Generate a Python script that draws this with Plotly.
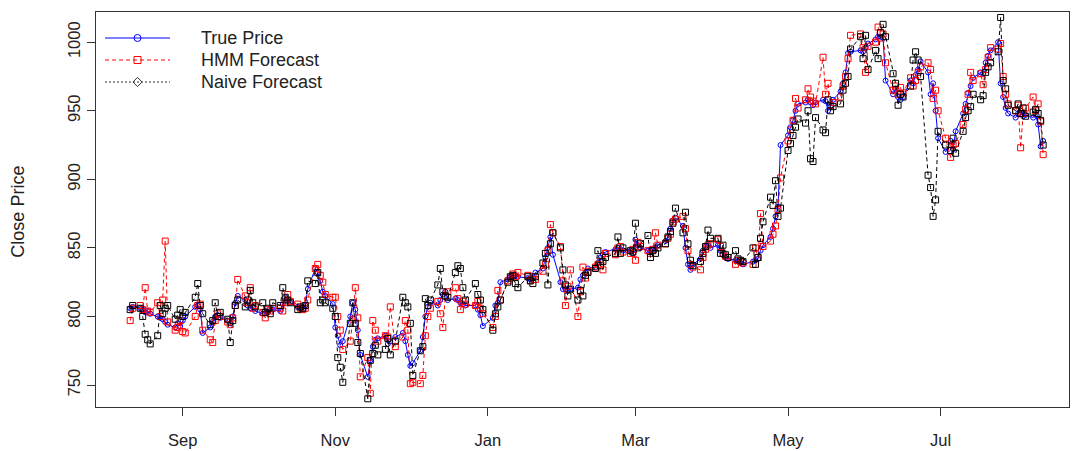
import pandas as pd
import plotly.graph_objects as go

# ---------------- data ----------------
start_date = "2016-08-11"
end_date = "2017-08-11"
market_holidays = ["2016-09-05", "2016-11-24", "2016-12-26", "2017-01-02",
                   "2017-01-16", "2017-02-20", "2017-04-14", "2017-05-29",
                   "2017-07-04"]

true_price = [
    806, 807, 806, 805, 803, 804, 802, 800, 799, 798, 796, 794, 792, 795, 793,
    797, 800, 807, 808, 805, 788, 792, 796, 800, 801, 799, 797, 795, 800, 810, 815, 812, 808, 806, 807, 804,
    802, 804, 803, 806, 805, 804, 809, 814, 812, 810, 807, 806, 805, 808, 820, 835, 832, 826, 818, 815, 809,
    792, 786, 779, 782, 800, 810, 805, 790, 772, 756, 768, 778, 783, 784, 786, 780, 782, 785, 788, 782, 772,
    764, 766, 775, 785, 800, 807, 810, 808, 812, 816, 818, 812, 813, 812, 810, 809, 808, 808, 805, 801, 793,
    799, 808, 810, 825, 827, 829, 830, 830, 829, 828, 827, 828, 832, 835, 843, 850, 858, 845, 825, 820,
    820, 819, 820, 821, 827, 830, 832, 835, 836, 839, 843, 845, 847, 849, 850, 849, 848, 848, 846,
    856, 852, 850, 848, 848, 849, 850, 852, 855, 858, 864, 870, 872, 866, 850, 838, 834, 838, 842, 848, 851, 852, 850,
    852, 848, 845, 843, 842, 841, 840, 839, 838, 840, 841, 842, 848, 852, 858, 864, 873, 880, 925,
    932, 938, 943, 950, 955, 956, 958, 956, 954, 956, 958, 957, 950, 953, 958, 964, 970, 978, 992, 993, 994, 993,
    996, 999, 1002, 1004, 1004, 1003, 972, 962, 966, 960, 958, 960, 972, 970, 976, 980, 986, 978, 962, 970, 950, 930,
    920, 928, 922, 935, 948, 955, 963, 968, 974, 978, 977, 985, 990, 994, 1000, 970, 960, 952, 948, 945,
    948, 950, 946, 947, 945, 947, 940, 924, 928,
]

hmm_forecast = [
    797, 806, 808, 805, 821, 804, 803, 810, 800, 812, 855, 796, 790, 792, 797,
    789, 788, 800, 808, 809, 790, 783, 781, 797, 802, 800, 796, 794, 799, 808, 827, 815, 810, 821, 806, 808,
    803, 799, 805, 804, 806, 806, 804, 810, 816, 811, 809, 806, 805, 806, 812, 835, 838, 830, 825, 816, 814,
    814, 800, 790, 776, 782, 798, 821, 799, 756, 770, 744, 797, 790, 782, 786, 785, 807, 778, 785, 797, 790,
    751, 752, 751, 757, 786, 800, 806, 811, 802, 792, 815, 818, 821, 813, 805, 811, 809, 808, 811, 806, 802,
    792, 800, 819, 812, 826, 828, 831, 829, 832, 830, 826, 829, 827, 833, 838, 848, 867, 861, 851, 826,
    808, 822, 834, 800, 818, 836, 828, 833, 836, 838, 840, 834, 846, 845, 850, 851, 847, 846, 849,
    841, 854, 851, 848, 846, 849, 861, 852, 853, 857, 860, 869, 871, 873, 864, 848, 838, 836, 834, 843, 849, 852, 853,
    856, 851, 846, 844, 843, 838, 841, 840, 839, 838, 850, 843, 875, 851, 855, 860, 866, 878, 901,
    928, 936, 943, 959, 952, 958, 966, 960, 957, 955, 989, 962, 970, 954, 956, 960, 968, 975, 988, 1005, 1006, 996,
    978, 997, 1000, 1011, 1003, 1006, 985, 965, 968, 962, 967, 963, 974, 968, 972, 978, 982, 985, 980, 959, 965, 950,
    930, 916, 925, 926, 940, 951, 962, 978, 972, 977, 969, 980, 989, 996, 995, 999, 975, 962, 955, 950,
    954, 923, 948, 952, 960, 950, 955, 942, 918,
]

naive_forecast = [
    805, 808, 806, 800, 787, 783, 780, 786, 808, 802, 806, 808, 798, 801, 805,
    800, 803, 814, 824, 808, 802, 794, 797, 810, 800, 803, 798, 781, 797, 808, 812, 807, 812, 819, 810, 807,
    810, 803, 806, 802, 810, 808, 821, 814, 812, 810, 805, 807, 806, 808, 826, 824, 832, 810, 812, 810, 806,
    800, 770, 763, 752, 795, 810, 795, 781, 773, 740, 768, 773, 779, 772, 776, 784, 772, 782, 814, 810, 807,
    795, 757, 775, 778, 813, 808, 812, 823, 835, 818, 815, 814, 832, 837, 835, 821, 812, 824, 816, 812, 805,
    790, 802, 807, 812, 825, 829, 830, 824, 821, 829, 826, 824, 829, 839, 846, 823, 853, 861, 850, 834,
    823, 815, 820, 812, 819, 815, 830, 832, 835, 848, 837, 840, 843, 846, 858, 846, 850, 848, 847,
    868, 850, 853, 859, 843, 848, 846, 850, 853, 858, 862, 868, 879, 861, 876, 853, 841, 837, 840, 846, 851, 863, 857,
    857, 846, 852, 845, 843, 848, 842, 841, 840, 850, 838, 843, 857, 869, 887, 881, 899, 873, 879,
    921, 926, 932, 938, 944, 941, 950, 915, 913, 945, 936, 934, 958, 950, 953, 955, 965, 970, 975, 995, 1004, 988,
    1005, 980, 994, 988, 1007, 1013, 1004, 977, 970, 954, 962, 960, 968, 987, 993, 987, 975, 903, 894, 873, 885, 935,
    925, 921, 930, 919, 935, 945, 950, 953, 962, 958, 961, 978, 982, 985, 993, 1018, 972, 966, 954, 950,
    955, 948, 952, 946, 949, 951, 948, 943, 925,
]

tick_dates = ["2016-09-01", "2016-11-01", "2017-01-01", "2017-03-01", "2017-05-01", "2017-07-01"]
tick_labels = ["Sep", "Nov", "Jan", "Mar", "May", "Jul"]
y_ticks = [750, 800, 850, 900, 950, 1000]

series_names = ["True Price", "HMM Forecast", "Naive Forecast"]

# ---------------- build ----------------
bday = pd.offsets.CustomBusinessDay(holidays=market_holidays)
dates = pd.date_range(start_date, end_date, freq=bday)
n = min(len(dates), len(true_price), len(hmm_forecast), len(naive_forecast))
dates = dates[:n]

BLUE = "#0000FF"
RED = "#FF0000"
BLACK = "#000000"
FONT = "Liberation Sans, Arial, sans-serif"
TXT = "#222222"

fig = go.Figure()
fig.add_trace(go.Scatter(
    x=dates, y=true_price[:n], mode="lines+markers", name=series_names[0],
    line=dict(color=BLUE, width=1),
    marker=dict(symbol="circle-open", size=5, color=BLUE, line=dict(width=1)),
    showlegend=False))
fig.add_trace(go.Scatter(
    x=dates, y=hmm_forecast[:n], mode="lines+markers", name=series_names[1],
    line=dict(color=RED, width=1, dash="4px,3px"),
    marker=dict(symbol="square-open", size=6, color=RED, line=dict(width=1)),
    showlegend=False))
fig.add_trace(go.Scatter(
    x=dates, y=naive_forecast[:n], mode="lines+markers", name=series_names[2],
    line=dict(color=BLACK, width=1, dash="4px,3px"),
    marker=dict(symbol="square-open", size=6, color=BLACK, line=dict(width=1)),
    showlegend=False))

# ---- manual legend (drawn on a hidden pixel-like overlay axis) ----
leg_rows = [38, 60, 82]
leg_styles = [
    (BLUE, "solid", "circle-open"),
    (RED, "4px,3px", "square-open"),
    ("#333333", "2px,2px", "diamond-open"),
]
for name, yrow, (col, dash, sym) in zip(series_names, leg_rows, leg_styles):
    fig.add_trace(go.Scatter(
        x=[105, 170], y=[yrow, yrow], mode="lines", xaxis="x2", yaxis="y2",
        line=dict(color=col, width=1, dash=dash), showlegend=False, hoverinfo="skip"))
    fig.add_trace(go.Scatter(
        x=[137.5], y=[yrow], mode="markers", xaxis="x2", yaxis="y2",
        marker=dict(symbol=sym, size=7, color=col, line=dict(width=1)),
        showlegend=False, hoverinfo="skip"))
    fig.add_annotation(x=199, y=yrow, xref="x2", yref="y2", text=name,
                       showarrow=False, xanchor="left", yanchor="middle",
                       font=dict(family=FONT, size=18, color=TXT))

fig.add_annotation(x=-0.08, y=0.495, xref="paper", yref="paper", text="Close Price",
                   textangle=-90, showarrow=False, xanchor="center", yanchor="middle",
                   font=dict(family=FONT, size=18, color=TXT))

fig.update_layout(
    width=1072, height=451,
    margin=dict(l=96, r=3, t=12, b=44),
    paper_bgcolor="white", plot_bgcolor="white",
    showlegend=False,
    font=dict(family=FONT, size=16, color=TXT),
    xaxis=dict(
        type="date",
        range=["2016-07-28 08:00", "2017-08-21 08:00"],
        tickvals=tick_dates, ticktext=tick_labels,
        ticks="outside", ticklen=8, tickwidth=1, tickcolor="#333333",
        showline=True, linecolor="#333333", linewidth=1, mirror=True,
        showgrid=False, zeroline=False, ticklabelstandoff=10,
        tickfont=dict(family=FONT, size=16.5, color=TXT),
    ),
    yaxis=dict(
        range=[734, 1022],
        tickvals=y_ticks,
        ticks="outside", ticklen=8, tickwidth=1, tickcolor="#333333",
        showline=True, linecolor="#333333", linewidth=1, mirror=True,
        showgrid=False, zeroline=False, tickangle=-90,
        tickfont=dict(family=FONT, size=16.5, color=TXT),
    ),
    xaxis2=dict(overlaying="x", range=[96, 1069], visible=False, fixedrange=True),
    yaxis2=dict(overlaying="y", range=[407, 12], visible=False, fixedrange=True),
)

fig.write_html("out.html",
               config={"displayModeBar": False},
               post_script="document.body.style.margin='0';document.body.style.overflow='hidden';")
